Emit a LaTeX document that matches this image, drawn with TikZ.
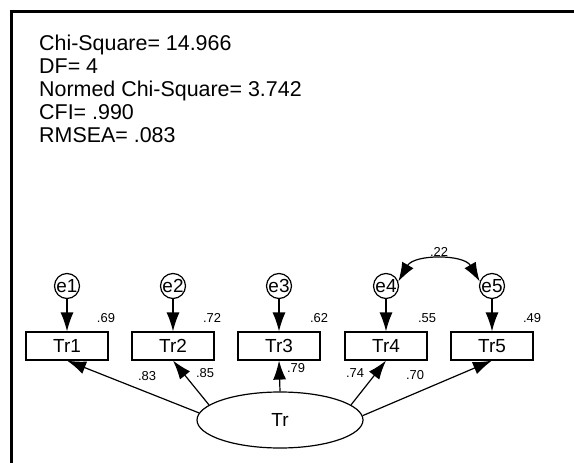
\documentclass[tikz,border=0pt]{standalone}
\usepackage{fontspec}
\setmainfont{Liberation Sans}
\usetikzlibrary{shapes.geometric, arrows.meta}
\tikzset{
  pointe/.tip = {
    Latex[length=19bp, width=13bp]
  },
  mesure/.style = {
    draw, line width=1.2bp, minimum width=82bp, minimum height=28bp,
    inner sep=0pt, font=\fontsize{19}{19}\selectfont
  },
  erreur/.style = {
    draw, circle, line width=1.2bp, minimum size=25bp,
    inner sep=0pt, font=\fontsize{19}{19}\selectfont
  },
  poids/.style = {
    inner sep=0pt, font=\fontsize{13}{13}\selectfont
  },
  fleche/.style = {
    line width=1.2bp, -pointe
  }
}

\begin{document}
\begin{tikzpicture}[x=1bp, y=-1bp]
    \useasboundingbox (0,0) rectangle (574,463);
    % le cadre
    \draw[line width=3bp] (11.5,463) -- (11.5,11.5) -- (574,11.5);
    % les indices d'ajustement
    \node[anchor=north west, align=left, inner sep=0pt,
      font=\fontsize{21.5}{23}\selectfont] (indices) at (39,35)
      {Chi-Square= 14.966\\DF= 4\\Normed Chi-Square= 3.742\\CFI= .990\\RMSEA= .083};
    % le facteur latent
    \node[draw, ellipse, line width=1.2bp, minimum width=166bp, minimum height=56bp,
      inner sep=0pt, font=\fontsize{19}{19}\selectfont] (Tr) at (280,420) {Tr};
    % les items
    \node[mesure] (Tr1) at (67,346)  {Tr1};
    \node[mesure] (Tr2) at (173,346) {Tr2};
    \node[mesure] (Tr3) at (279,346) {Tr3};
    \node[mesure] (Tr4) at (386,346) {Tr4};
    \node[mesure] (Tr5) at (492,346) {Tr5};
    % les erreurs
    \node[erreur] (e1) at (67,286)  {e1};
    \node[erreur] (e2) at (173,286) {e2};
    \node[erreur] (e3) at (279,286) {e3};
    \node[erreur] (e4) at (386,286) {e4};
    \node[erreur] (e5) at (492,286) {e5};
    % les fleches
    \path
      (e1) edge[fleche] (Tr1)
      (e2) edge[fleche] (Tr2)
      (e3) edge[fleche] (Tr3)
      (e4) edge[fleche] (Tr4)
      (e5) edge[fleche] (Tr5)
      (Tr.175) edge[fleche] (Tr1.south)
      (Tr.168) edge[fleche] (Tr2.south)
      (Tr.north) edge[fleche] (Tr3.south)
      (Tr.12) edge[fleche] (Tr4.south)
      (Tr.3) edge[fleche] (Tr5.south)
    ;
    % la covariance
    \draw[line width=1.2bp, pointe-pointe]
      (e4.20) to[out=60, in=120] (e5.160);
    % les coefficients
    \node[poids] (r45) at (439,252) {.22};
    \node[poids] (r1) at (106,318) {.69};
    \node[poids] (r2) at (212,318) {.72};
    \node[poids] (r3) at (319,318) {.62};
    \node[poids] (r4) at (427,318) {.55};
    \node[poids] (r5) at (532,318) {.49};
    \node[poids] (l1) at (147,376) {.83};
    \node[poids] (l2) at (205,373) {.85};
    \node[poids] (l3) at (296,368) {.79};
    \node[poids] (l4) at (355,373) {.74};
    \node[poids] (l5) at (415,375) {.70};
\end{tikzpicture}
\end{document}
